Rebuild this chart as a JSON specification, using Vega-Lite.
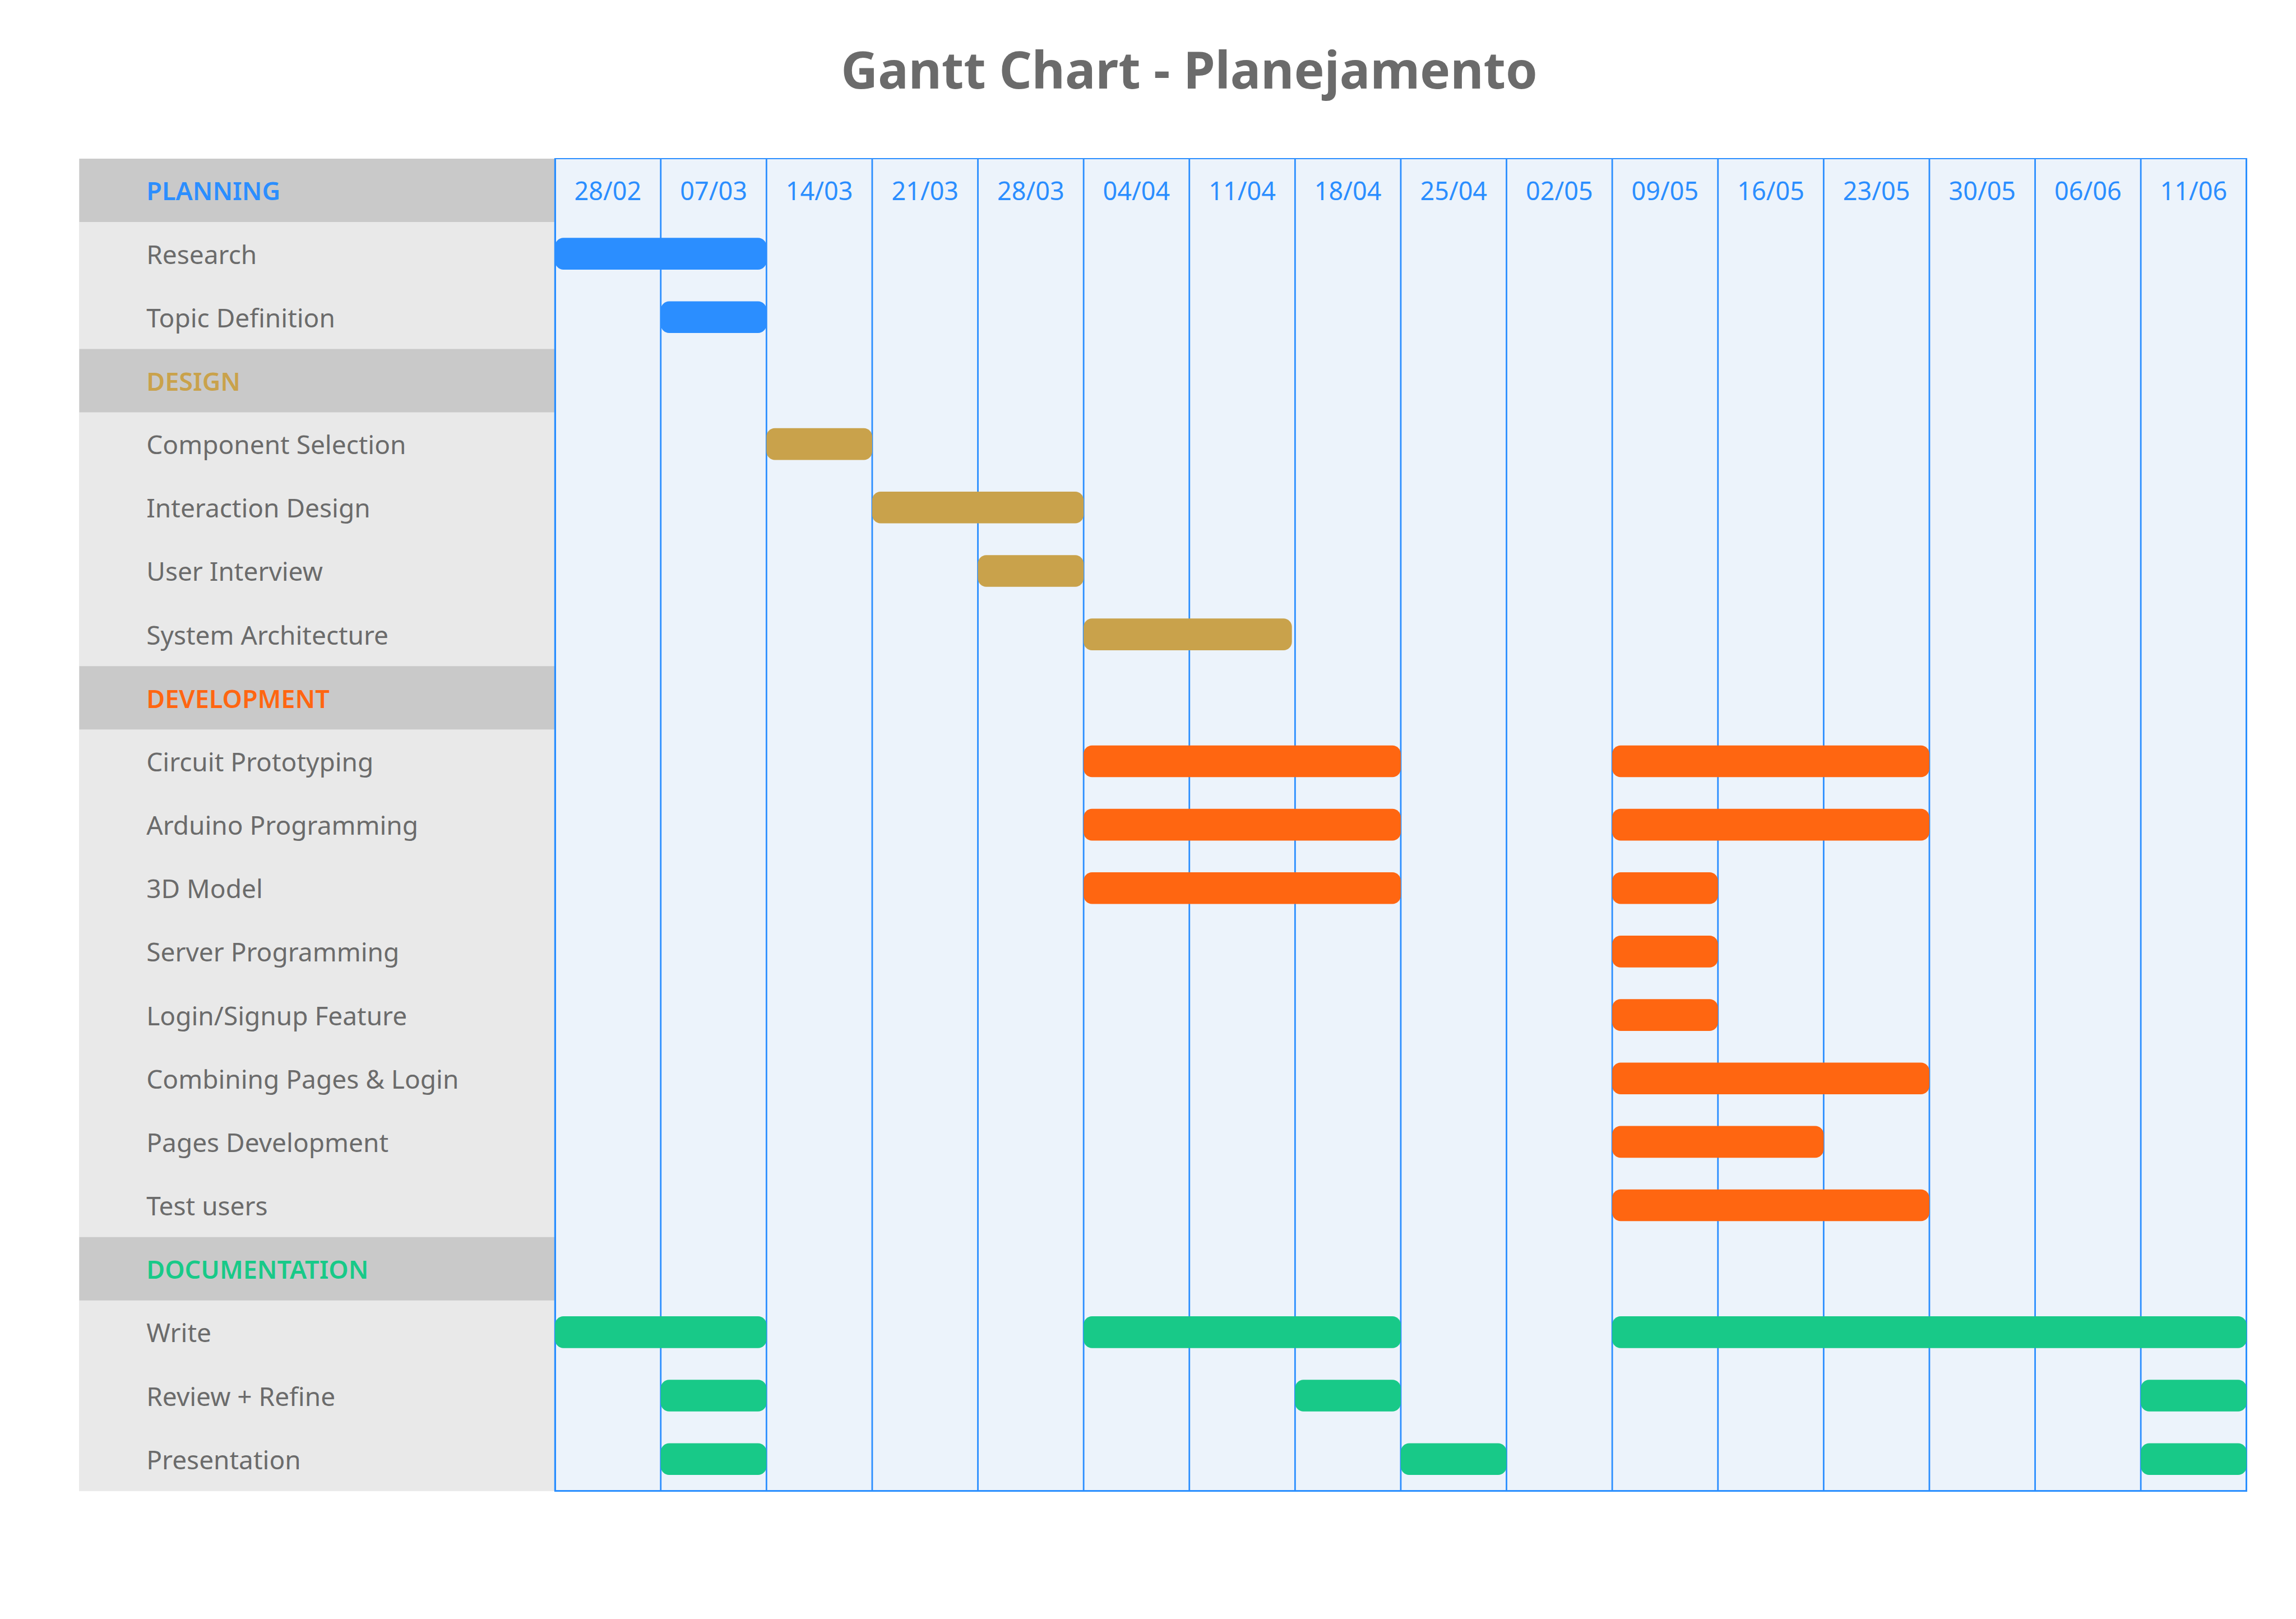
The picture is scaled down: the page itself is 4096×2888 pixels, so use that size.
{
  "$schema": "https://vega.github.io/schema/vega-lite/v6.json",
  "width": 3866.3,
  "height": 2376.4,
  "autosize": {"type": "none"},
  "padding": {"left": 141.45, "top": 282.9, "right": 88.25, "bottom": 228.7},
  "background": "white",
  "config": {"view": {"stroke": null}, "font": "Noto Sans"},
  "title": {
    "text": "Gantt Chart - Planejamento",
    "font": "Noto Sans",
    "fontSize": 91,
    "fontWeight": "bold",
    "color": "#6b6b6b",
    "anchor": "middle",
    "baseline": "alphabetic",
    "offset": 33,
    "dx": 47
  },
  "datasets": {
    "rows": [
      {"row": "PLANNING", "kind": "category", "group": "PLANNING"},
      {"row": "Research", "kind": "task", "group": "PLANNING"},
      {"row": "Topic Definition", "kind": "task", "group": "PLANNING"},
      {"row": "DESIGN", "kind": "category", "group": "DESIGN"},
      {"row": "Component Selection", "kind": "task", "group": "DESIGN"},
      {"row": "Interaction Design", "kind": "task", "group": "DESIGN"},
      {"row": "User Interview", "kind": "task", "group": "DESIGN"},
      {"row": "System Architecture", "kind": "task", "group": "DESIGN"},
      {"row": "DEVELOPMENT", "kind": "category", "group": "DEVELOPMENT"},
      {"row": "Circuit Prototyping", "kind": "task", "group": "DEVELOPMENT"},
      {"row": "Arduino Programming", "kind": "task", "group": "DEVELOPMENT"},
      {"row": "3D Model", "kind": "task", "group": "DEVELOPMENT"},
      {"row": "Server Programming", "kind": "task", "group": "DEVELOPMENT"},
      {"row": "Login/Signup Feature", "kind": "task", "group": "DEVELOPMENT"},
      {"row": "Combining Pages & Login", "kind": "task", "group": "DEVELOPMENT"},
      {"row": "Pages Development", "kind": "task", "group": "DEVELOPMENT"},
      {"row": "Test users", "kind": "task", "group": "DEVELOPMENT"},
      {"row": "DOCUMENTATION", "kind": "category", "group": "DOCUMENTATION"},
      {"row": "Write", "kind": "task", "group": "DOCUMENTATION"},
      {"row": "Review + Refine", "kind": "task", "group": "DOCUMENTATION"},
      {"row": "Presentation", "kind": "task", "group": "DOCUMENTATION"}
    ],
    "weeks": [
      {"week": 0, "label": "28/02"},
      {"week": 1, "label": "07/03"},
      {"week": 2, "label": "14/03"},
      {"week": 3, "label": "21/03"},
      {"week": 4, "label": "28/03"},
      {"week": 5, "label": "04/04"},
      {"week": 6, "label": "11/04"},
      {"week": 7, "label": "18/04"},
      {"week": 8, "label": "25/04"},
      {"week": 9, "label": "02/05"},
      {"week": 10, "label": "09/05"},
      {"week": 11, "label": "16/05"},
      {"week": 12, "label": "23/05"},
      {"week": 13, "label": "30/05"},
      {"week": 14, "label": "06/06"},
      {"week": 15, "label": "11/06"}
    ],
    "bars": [
      {"task": "Research", "group": "PLANNING", "start": 0, "end": 2},
      {"task": "Topic Definition", "group": "PLANNING", "start": 1, "end": 2},
      {"task": "Component Selection", "group": "DESIGN", "start": 2, "end": 3},
      {"task": "Interaction Design", "group": "DESIGN", "start": 3, "end": 5},
      {"task": "User Interview", "group": "DESIGN", "start": 4, "end": 5},
      {"task": "System Architecture", "group": "DESIGN", "start": 5, "end": 6.97},
      {"task": "Circuit Prototyping", "group": "DEVELOPMENT", "start": 5, "end": 8},
      {"task": "Circuit Prototyping", "group": "DEVELOPMENT", "start": 10, "end": 13},
      {"task": "Arduino Programming", "group": "DEVELOPMENT", "start": 5, "end": 8},
      {"task": "Arduino Programming", "group": "DEVELOPMENT", "start": 10, "end": 13},
      {"task": "3D Model", "group": "DEVELOPMENT", "start": 5, "end": 8},
      {"task": "3D Model", "group": "DEVELOPMENT", "start": 10, "end": 11},
      {"task": "Server Programming", "group": "DEVELOPMENT", "start": 10, "end": 11},
      {"task": "Login/Signup Feature", "group": "DEVELOPMENT", "start": 10, "end": 11},
      {"task": "Combining Pages & Login", "group": "DEVELOPMENT", "start": 10, "end": 13},
      {"task": "Pages Development", "group": "DEVELOPMENT", "start": 10, "end": 12},
      {"task": "Test users", "group": "DEVELOPMENT", "start": 10, "end": 13},
      {"task": "Write", "group": "DOCUMENTATION", "start": 0, "end": 2},
      {"task": "Write", "group": "DOCUMENTATION", "start": 5, "end": 8},
      {"task": "Write", "group": "DOCUMENTATION", "start": 10, "end": 16},
      {"task": "Review + Refine", "group": "DOCUMENTATION", "start": 1, "end": 2},
      {"task": "Review + Refine", "group": "DOCUMENTATION", "start": 7, "end": 8},
      {"task": "Review + Refine", "group": "DOCUMENTATION", "start": 15, "end": 16},
      {"task": "Presentation", "group": "DOCUMENTATION", "start": 1, "end": 2},
      {"task": "Presentation", "group": "DOCUMENTATION", "start": 8, "end": 9},
      {"task": "Presentation", "group": "DOCUMENTATION", "start": 15, "end": 16}
    ]
  },
  "layer": [
    {
      "data": {"name": "rows"},
      "mark": {"type": "rect", "fill": "#e9e9e9"},
      "encoding": {
        "x": {"datum": -4.5, "type": "quantitative", "scale": {"type": "linear", "domain": [-4.5, 16], "nice": false, "zero": false}, "axis": null},
        "x2": {"datum": 0}
      }
    },
    {
      "data": {"name": "rows"},
      "transform": [{"filter": "datum.kind === 'category'"}],
      "mark": {"type": "rect", "fill": "#c9c9c9"},
      "encoding": {
        "x": {"datum": -4.5, "type": "quantitative", "axis": null},
        "x2": {"datum": 0},
        "y": {
          "field": "row", "type": "nominal", "axis": null,
          "scale": {"type": "band", "paddingInner": 0, "paddingOuter": 0,
            "domain": ["PLANNING", "Research", "Topic Definition", "DESIGN", "Component Selection", "Interaction Design", "User Interview", "System Architecture", "DEVELOPMENT", "Circuit Prototyping", "Arduino Programming", "3D Model", "Server Programming", "Login/Signup Feature", "Combining Pages & Login", "Pages Development", "Test users", "DOCUMENTATION", "Write", "Review + Refine", "Presentation"]}
        }
      }
    },
    {
      "data": {"name": "rows"},
      "mark": {"type": "rect", "fill": "#ecf3fb"},
      "encoding": {
        "x": {"datum": 0, "type": "quantitative", "axis": null},
        "x2": {"datum": 16}
      }
    },
    {
      "data": {"name": "weeks"},
      "mark": {"type": "rule", "stroke": "#2b8eff", "strokeWidth": 2.8},
      "encoding": {
        "x": {"field": "week", "type": "quantitative", "axis": null}
      }
    },
    {
      "data": {"name": "rows"},
      "mark": {"type": "rect", "fillOpacity": 0, "stroke": "#2b8eff", "strokeWidth": 2},
      "encoding": {
        "x": {"datum": 0, "type": "quantitative", "axis": null},
        "x2": {"datum": 16}
      }
    },
    {
      "data": {"name": "weeks"},
      "mark": {"type": "text", "fill": "#2b8eff", "fontSize": 45, "align": "center", "baseline": "alphabetic", "dx": 94.3, "dy": 18},
      "encoding": {
        "x": {"field": "week", "type": "quantitative", "axis": null},
        "y": {"datum": "PLANNING", "type": "nominal", "axis": null},
        "text": {"field": "label"}
      }
    },
    {
      "data": {"name": "rows"},
      "transform": [{"filter": "datum.kind === 'task'"}],
      "mark": {"type": "text", "fill": "#6b6b6b", "fontSize": 46, "align": "left", "baseline": "alphabetic", "dx": 119.8, "dy": 18},
      "encoding": {
        "x": {"datum": -4.5, "type": "quantitative", "axis": null},
        "y": {"field": "row", "type": "nominal", "axis": null},
        "text": {"field": "row"}
      }
    },
    {
      "data": {"name": "rows"},
      "transform": [{"filter": "datum.kind === 'category'"}],
      "mark": {"type": "text", "fontSize": 45, "fontWeight": 600, "align": "left", "baseline": "alphabetic", "dx": 119.8, "dy": 18},
      "encoding": {
        "x": {"datum": -4.5, "type": "quantitative", "axis": null},
        "y": {"field": "row", "type": "nominal", "axis": null},
        "text": {"field": "row"},
        "color": {
          "field": "group", "type": "nominal", "legend": null,
          "scale": {"domain": ["PLANNING", "DESIGN", "DEVELOPMENT", "DOCUMENTATION"], "range": ["#2b8eff", "#c9a24b", "#ff6611", "#18c988"]}
        }
      }
    },
    {
      "data": {"name": "bars"},
      "mark": {"type": "bar", "height": 56.6, "cornerRadius": 15},
      "encoding": {
        "x": {"field": "start", "type": "quantitative", "axis": null},
        "x2": {"field": "end"},
        "y": {"field": "task", "type": "nominal", "axis": null},
        "color": {"field": "group", "type": "nominal", "legend": null}
      }
    }
  ]
}
